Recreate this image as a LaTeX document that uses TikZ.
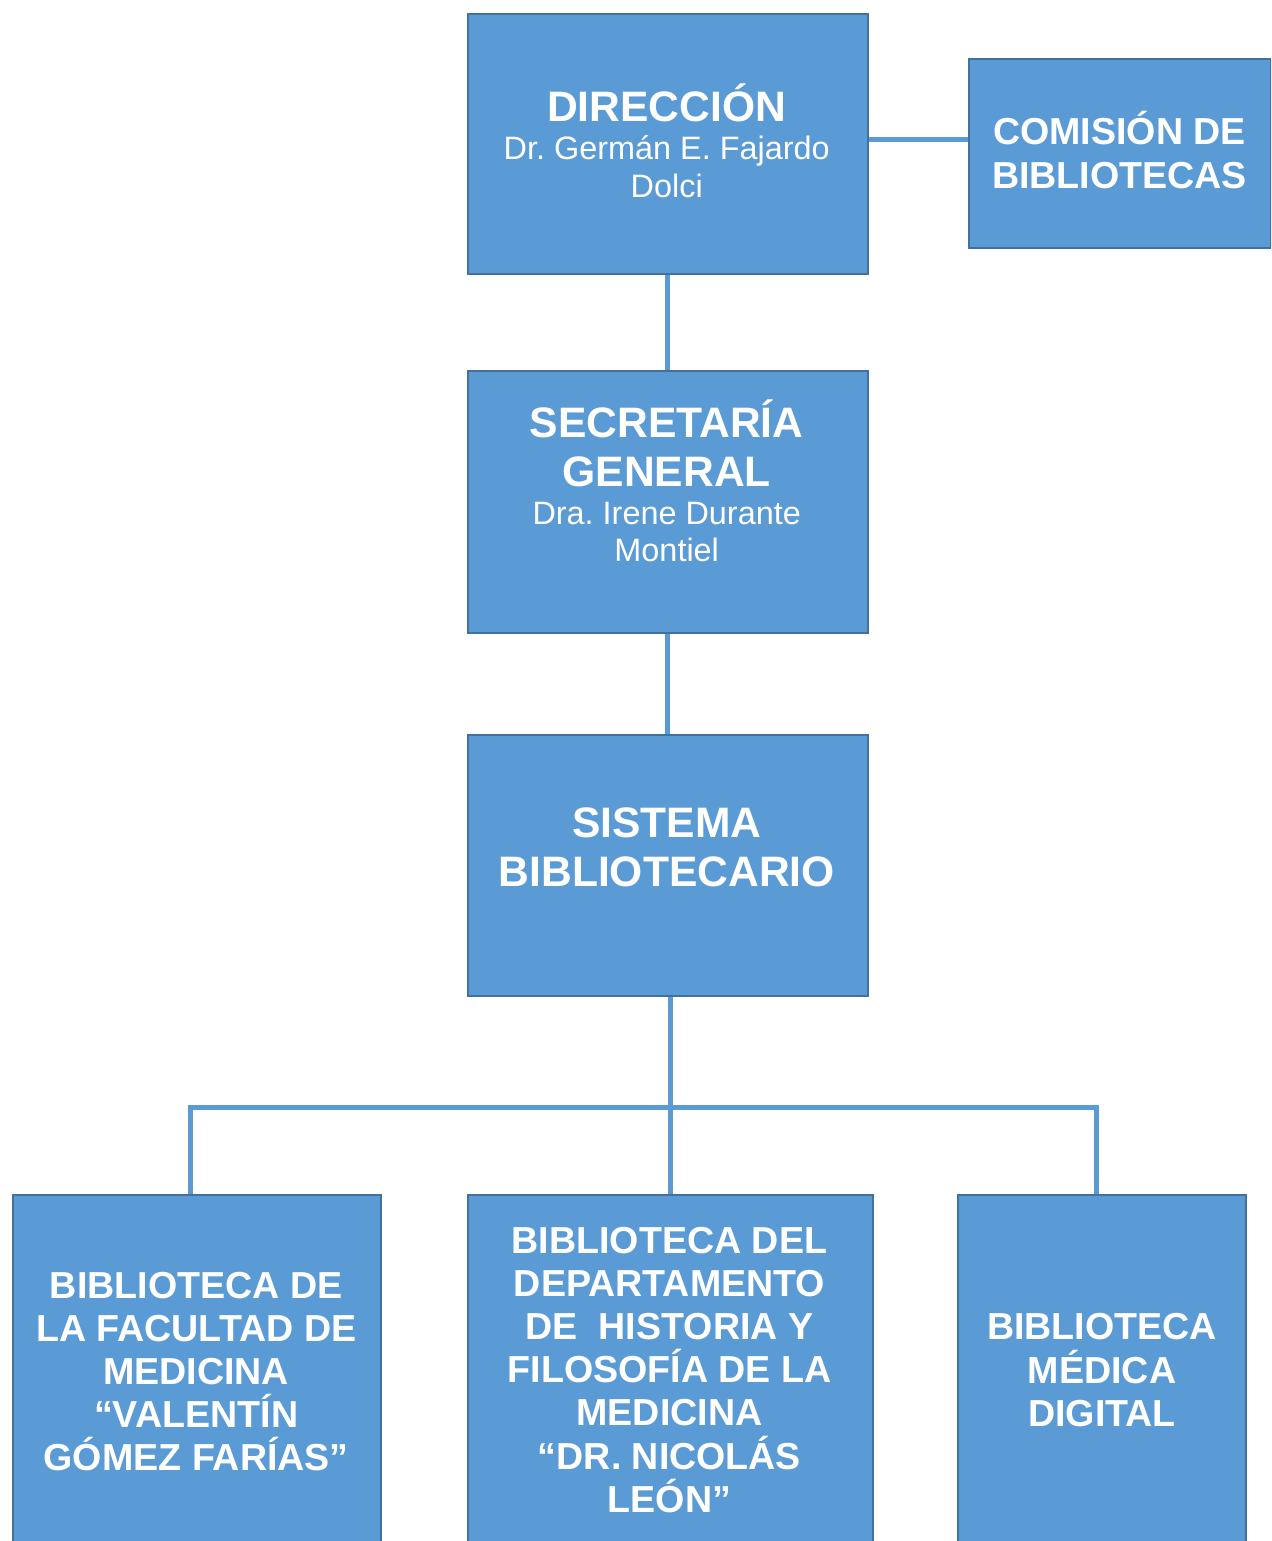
\documentclass[tikz,border=0pt]{standalone}
\usepackage{fontspec}
\setmainfont{Liberation Sans}
\definecolor{boxfill}{HTML}{5B9BD5}
\definecolor{boxline}{HTML}{41719C}
\definecolor{connline}{HTML}{5B9BD5}
\newcommand\firstline{\rule{0pt}{50pt}}
\frenchspacing
\tikzset{
  orgbox/.style={draw=boxline, fill=boxfill, line width=2pt, inner sep=0pt, anchor=north west},
  conn/.style={draw=connline, line width=5pt},
  lbl/.style={text=white, align=center, inner sep=0pt, anchor=north},
  bigtitle/.style={lbl, font=\fontsize{42.6}{49.4}\selectfont\bfseries},
  person/.style={lbl, font=\fontsize{32.4}{37.5}\selectfont},
  smalltitle/.style={lbl, font=\fontsize{37.6}{43.1}\selectfont\bfseries},
}
\begin{document}
\begin{tikzpicture}[x=1pt, y=-1pt]
\useasboundingbox (0,0) rectangle (1271,1541);
\clip (0,0) rectangle (1271,1541);

% boxes
\node[orgbox, minimum width=400pt, minimum height=260pt] (dir) at (466.7,12.7) {};
\node[orgbox, minimum width=301.5pt, minimum height=189pt] (com) at (968.3,58.3) {};
\node[orgbox, minimum width=400pt, minimum height=261.7pt] (sec) at (466.7,370) {};
\node[orgbox, minimum width=400pt, minimum height=261.3pt] (sis) at (466.7,734) {};
\node[orgbox, minimum width=368pt, minimum height=400pt] (bl) at (12,1194) {};
\node[orgbox, minimum width=405.3pt, minimum height=400pt] (bm) at (466.7,1194) {};
\node[orgbox, minimum width=287.4pt, minimum height=400pt] (br) at (957.3,1194) {};

% texts
\node[bigtitle] (dirT) at (666.7,71.7) {\firstline DIRECCIÓN};
\node[person] (dirP) at (666.7,109.3) {\firstline Dr. Germán E. Fajardo\\Dolci};
\node[smalltitle, font=\fontsize{37.6}{44.3}\selectfont\bfseries] (comT) at (1119.5,94) {\firstline COMISIÓN DE\\BIBLIOTECAS};
\node[bigtitle] (secT) at (666.7,387.3) {\firstline SECRETARÍA\\GENERAL};
\node[person] (secP) at (666.7,474) {\firstline Dra. Irene Durante\\Montiel};
\node[bigtitle] (sisT) at (666.7,787.3) {\firstline SISTEMA\\BIBLIOTECARIO};
\node[smalltitle] (blT) at (196.2,1248.3) {\firstline BIBLIOTECA DE\\LA FACULTAD DE\\MEDICINA\\“VALENTÍN\\GÓMEZ FARÍAS”};
\node[smalltitle] (bmT) at (669.5,1203.3) {\firstline BIBLIOTECA DEL\\DEPARTAMENTO\\DE~~HISTORIA Y\\FILOSOFÍA DE LA\\MEDICINA\\“DR. NICOLÁS\\LEÓN”};
\node[smalltitle, font=\fontsize{37.6}{43.6}\selectfont\bfseries] (brT) at (1102,1289.3) {\firstline BIBLIOTECA\\MÉDICA\\DIGITAL};

% connectors
\coordinate (hy) at (0,139.5);
\coordinate (bary) at (0,1107.5);
\coordinate (lx) at (190.5,0);
\coordinate (rx) at (1096,0);
\draw[conn] (dir.east |- hy) -- (com.west |- hy);
\draw[conn] (dir.south) -- (sec.north);
\draw[conn] (sec.south) -- (sis.north);
\draw[conn] (sis.south -| bm.north) -- (bm.north);
\draw[conn] (lx |- bl.north) -- (lx |- bary) -- (rx |- bary) -- (rx |- br.north);
\end{tikzpicture}
\end{document}
